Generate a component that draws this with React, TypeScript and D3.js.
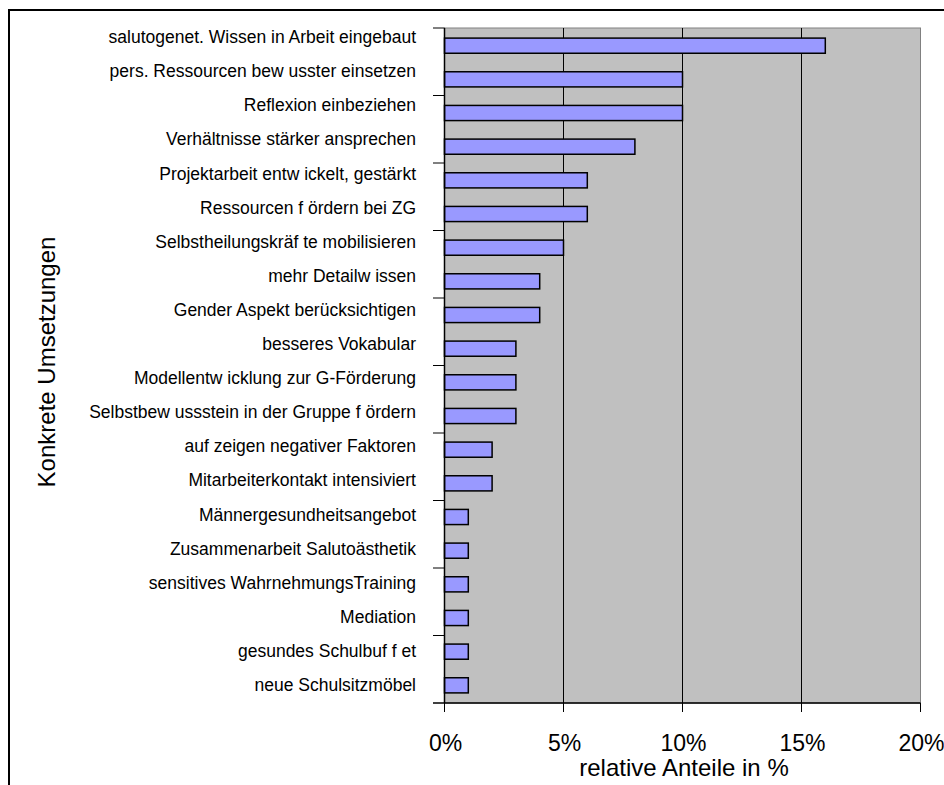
import * as d3 from "d3";
import { useEffect, useRef } from "react";

const categories = [
  "salutogenet. Wissen in Arbeit eingebaut",
  "pers. Ressourcen bew usster einsetzen",
  "Reflexion einbeziehen",
  "Verhältnisse stärker ansprechen",
  "Projektarbeit entw ickelt, gestärkt",
  "Ressourcen f ördern bei ZG",
  "Selbstheilungskräf te mobilisieren",
  "mehr Detailw issen",
  "Gender Aspekt berücksichtigen",
  "besseres Vokabular",
  "Modellentw icklung zur G-Förderung",
  "Selbstbew ussstein in der Gruppe f ördern",
  "auf zeigen negativer Faktoren",
  "Mitarbeiterkontakt intensiviert",
  "Männergesundheitsangebot",
  "Zusammenarbeit Salutoästhetik",
  "sensitives WahrnehmungsTraining",
  "Mediation",
  "gesundes Schulbuf f et",
  "neue Schulsitzmöbel",
];

const shares = [16, 10, 10, 8, 6, 6, 5, 4, 4, 3, 3, 3, 2, 2, 1, 1, 1, 1, 1, 1];

const xTicks = [0, 5, 10, 15, 20];

export default function App() {
  const ref = useRef<SVGSVGElement | null>(null);

  useEffect(() => {
    if (!ref.current) return;
    const svg = d3.select(ref.current);
    svg.selectAll("*").remove();

    const left = 444.5;
    const right = 920.5;
    const top = 28;
    const bottom = 703;
    const font = "'Liberation Sans', Arial, sans-serif";

    // outer chart border (runs off the page right and bottom)
    svg
      .append("rect")
      .attr("x", 9)
      .attr("y", 10)
      .attr("width", 1000)
      .attr("height", 1000)
      .attr("fill", "#fff")
      .attr("stroke", "#000")
      .attr("stroke-width", 2);

    const x = d3.scaleLinear().domain([0, 20]).range([left, right]);
    const y = d3.scaleBand<string>().domain(categories).range([top, bottom]).paddingInner(0.55).paddingOuter(0.3);
    const yLabel = d3.scalePoint<string>().domain(categories).range([37, 685]);

    // plot area
    svg
      .append("rect")
      .attr("x", left)
      .attr("y", top)
      .attr("width", right - left)
      .attr("height", bottom - top)
      .attr("fill", "#c0c0c0")
      .attr("stroke", "#808080")
      .attr("stroke-width", 1);

    // gridlines
    svg
      .append("g")
      .selectAll("line")
      .data(xTicks.slice(1, -1))
      .join("line")
      .attr("x1", (d) => x(d))
      .attr("x2", (d) => x(d))
      .attr("y1", top)
      .attr("y2", bottom)
      .attr("stroke", "#000")
      .attr("stroke-width", 1);

    // bars
    svg
      .append("g")
      .selectAll("rect")
      .data(shares)
      .join("rect")
      .attr("x", x(0))
      .attr("y", (_, i) => y(categories[i])!)
      .attr("width", (d) => x(d) - x(0))
      .attr("height", y.bandwidth())
      .attr("fill", "#9999ff")
      .attr("stroke", "#000")
      .attr("stroke-width", 1.5);

    // axes lines
    svg
      .append("line")
      .attr("x1", left)
      .attr("x2", left)
      .attr("y1", top)
      .attr("y2", bottom)
      .attr("stroke", "#000")
      .attr("stroke-width", 1.5);
    svg
      .append("line")
      .attr("x1", 433)
      .attr("x2", right)
      .attr("y1", bottom)
      .attr("y2", bottom)
      .attr("stroke", "#000")
      .attr("stroke-width", 1.5);

    // category ticks every other boundary
    const step = (bottom - top) / categories.length;
    const yTickPos = d3.range(0, categories.length, 2).map((i) => top + i * step);
    svg
      .append("g")
      .selectAll("line")
      .data(yTickPos)
      .join("line")
      .attr("x1", 433)
      .attr("x2", left)
      .attr("y1", (d) => d)
      .attr("y2", (d) => d)
      .attr("stroke", "#000")
      .attr("stroke-width", 1);

    // x ticks
    svg
      .append("g")
      .selectAll("line")
      .data(xTicks)
      .join("line")
      .attr("x1", (d) => x(d))
      .attr("x2", (d) => x(d))
      .attr("y1", bottom)
      .attr("y2", bottom + 9)
      .attr("stroke", "#000")
      .attr("stroke-width", 1);

    svg
      .append("g")
      .selectAll("text")
      .data(xTicks)
      .join("text")
      .attr("x", (d) => x(d) + 1)
      .attr("y", 751)
      .attr("text-anchor", "middle")
      .attr("font-family", font)
      .attr("font-size", 23)
      .text((d) => `${d}%`);

    // category labels
    svg
      .append("g")
      .selectAll("text")
      .data(categories)
      .join("text")
      .attr("x", 416)
      .attr("y", (d) => yLabel(d)!)
      .attr("dy", "0.35em")
      .attr("text-anchor", "end")
      .attr("font-family", font)
      .attr("font-size", 17.5)
      .attr("fill", "#000")
      .text((d) => d);

    // axis titles
    svg
      .append("text")
      .attr("x", 684)
      .attr("y", 776)
      .attr("text-anchor", "middle")
      .attr("font-family", font)
      .attr("font-size", 24)
      .text("relative Anteile in %");

    svg
      .append("text")
      .attr("transform", "translate(55,362) rotate(-90)")
      .attr("text-anchor", "middle")
      .attr("font-family", font)
      .attr("font-size", 24)
      .text("Konkrete Umsetzungen");
  }, []);

  return (
    <svg
      ref={ref}
      width={944}
      height={785}
      style={{ position: "absolute", left: 0, top: 0, display: "block" }}
      role="img"
      aria-label="Konkrete Umsetzungen"
    />
  );
}
